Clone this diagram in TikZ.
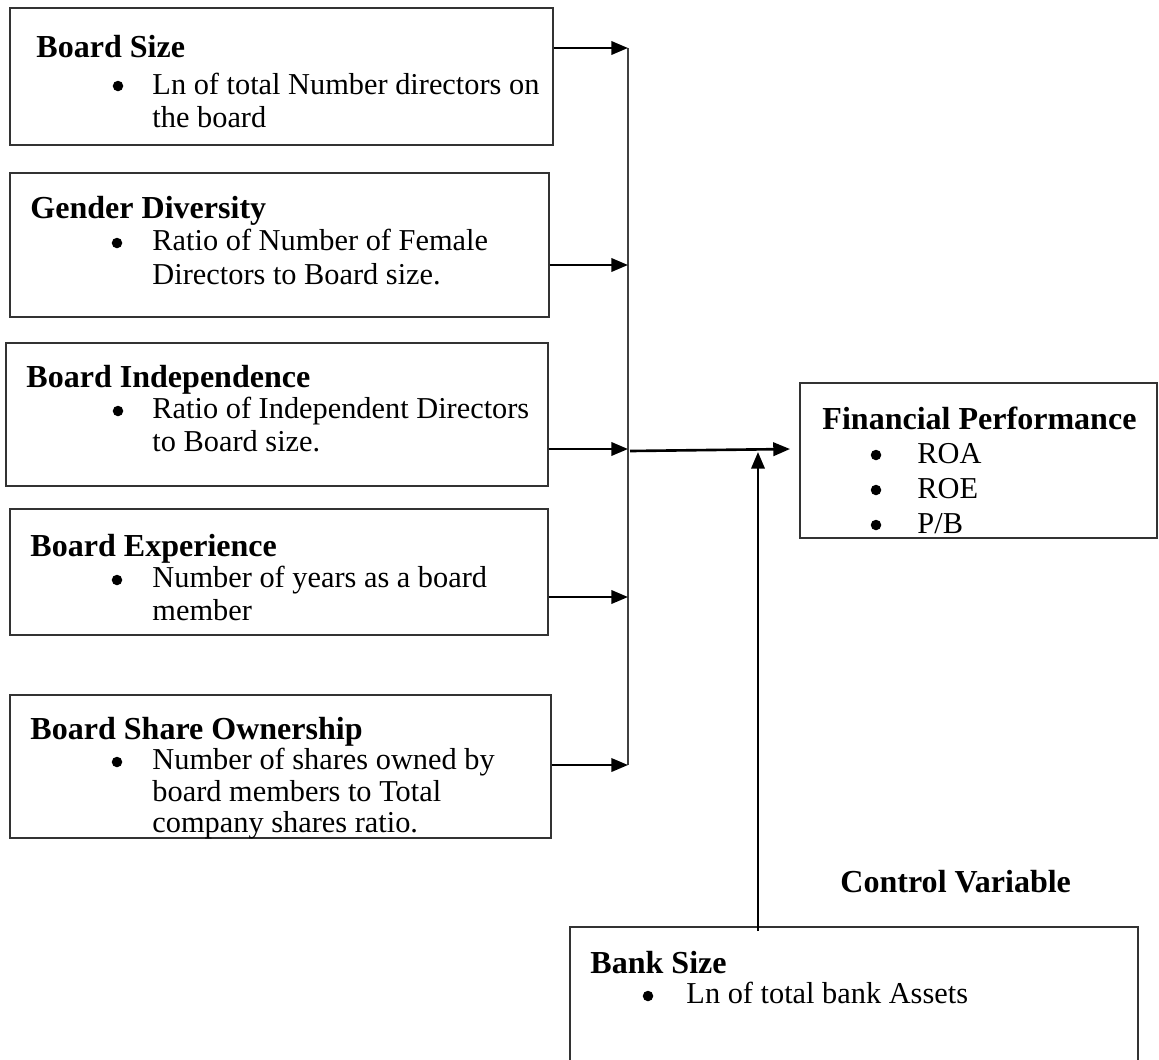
\documentclass[tikz,border=0pt]{standalone}
\usepackage{fontspec}
\setmainfont{Liberation Serif}
\usetikzlibrary{arrows.meta,fit}
\begin{document}
\begin{tikzpicture}[x=0.4184pt,y=-0.4184pt,
  box/.style={draw=black!80, line width=0.55pt, inner sep=0pt},
  hd/.style={anchor=base west, inner sep=0pt, font=\fontsize{13.4}{15}\selectfont\bfseries},
  tx/.style={anchor=base west, inner sep=0pt, font=\fontsize{12.7}{14.6}\selectfont},
  bul/.style={circle, fill=black, inner sep=0pt, minimum size=4.4pt},
  conn/.style={line width=1.1pt, -{Triangle[length=7pt,width=5.6pt]}},
  rail/.style={draw=black!75, line width=0.65pt}]
\useasboundingbox (0,0) rectangle (1159,1059);
\clip (0,0) rectangle (1159,1059);

% Box 1
\node[box, fit={(10,8) (553,145)}] (b1) {};
\node[hd] (h1) at (36,57) {Board Size};
\node[bul] (u1) at (118,86) {};
\node[tx] (t1a) at (152,94) {Ln of total Number directors on};
\node[tx] (t1b) at (152,127) {the board};

% Box 2
\node[box, fit={(10,173) (549,317)}] (b2) {};
\node[hd] (h2) at (30,218) {Gender Diversity};
\node[bul] (u2) at (117,243) {};
\node[tx] (t2a) at (152,250) {Ratio of Number of Female};
\node[tx] (t2b) at (152,284) {Directors to Board size.};

% Box 3
\node[box, fit={(6,343) (548,486)}] (b3) {};
\node[hd] (h3) at (26,387) {Board Independence};
\node[bul] (u3) at (118,411) {};
\node[tx] (t3a) at (152,418) {Ratio of Independent Directors};
\node[tx] (t3b) at (152,451) {to Board size.};

% Box 4
\node[box, fit={(10,509) (548,635)}] (b4) {};
\node[hd] (h4) at (30,556) {Board Experience};
\node[bul] (u4) at (117,580) {};
\node[tx] (t4a) at (152,587) {Number of years as a board};
\node[tx] (t4b) at (152,620) {member};

% Box 5
\node[box, fit={(10,695) (551,838)}] (b5) {};
\node[hd] (h5) at (30,739) {Board Share Ownership};
\node[bul] (u5) at (117,762) {};
\node[tx] (t5a) at (152,769) {Number of shares owned by};
\node[tx] (t5b) at (152,801) {board members to Total};
\node[tx] (t5c) at (152,832) {company shares ratio.};

% Financial performance
\node[box, fit={(800,383) (1157,538)}] (fp) {};
\node[hd] (hf) at (822,429) {Financial Performance};
\node[bul] (uf1) at (876,455) {};
\node[tx] (tf1) at (917,463) {ROA};
\node[bul] (uf2) at (876,490) {};
\node[tx] (tf2) at (917,498) {ROE};
\node[bul] (uf3) at (876,525) {};
\node[tx] (tf3) at (917,533) {P/B};

% Control variable
\node[hd] (cv) at (840,892) {Control Variable};
\node[box, fit={(570,927) (1138,1080)}] (bs) {};
\node[hd] (hb) at (590,973) {Bank Size};
\node[bul] (ub) at (648,996) {};
\node[tx] (tb) at (686,1003) {Ln of total bank Assets};

% Rail and connectors
\coordinate (r1) at (628,48);
\coordinate (r2) at (628,265);
\coordinate (r3) at (628,449);
\coordinate (r4) at (628,597);
\coordinate (r5) at (628,765);
\coordinate (rm) at (630,451);
\coordinate (fin) at (790,449);
\coordinate (bt) at (758,931);
\coordinate (jn) at (758,452);
\draw[rail] (r1) -- (r5);
\draw[conn] (b1.east |- r1) -- (r1);
\draw[conn] (b2.east |- r2) -- (r2);
\draw[conn] (b3.east |- r3) -- (r3);
\draw[conn] (b4.east |- r4) -- (r4);
\draw[conn] (b5.east |- r5) -- (r5);
\draw[conn] (rm) -- (fin);
\draw[conn] (bt) -- (jn);
\end{tikzpicture}
\end{document}
